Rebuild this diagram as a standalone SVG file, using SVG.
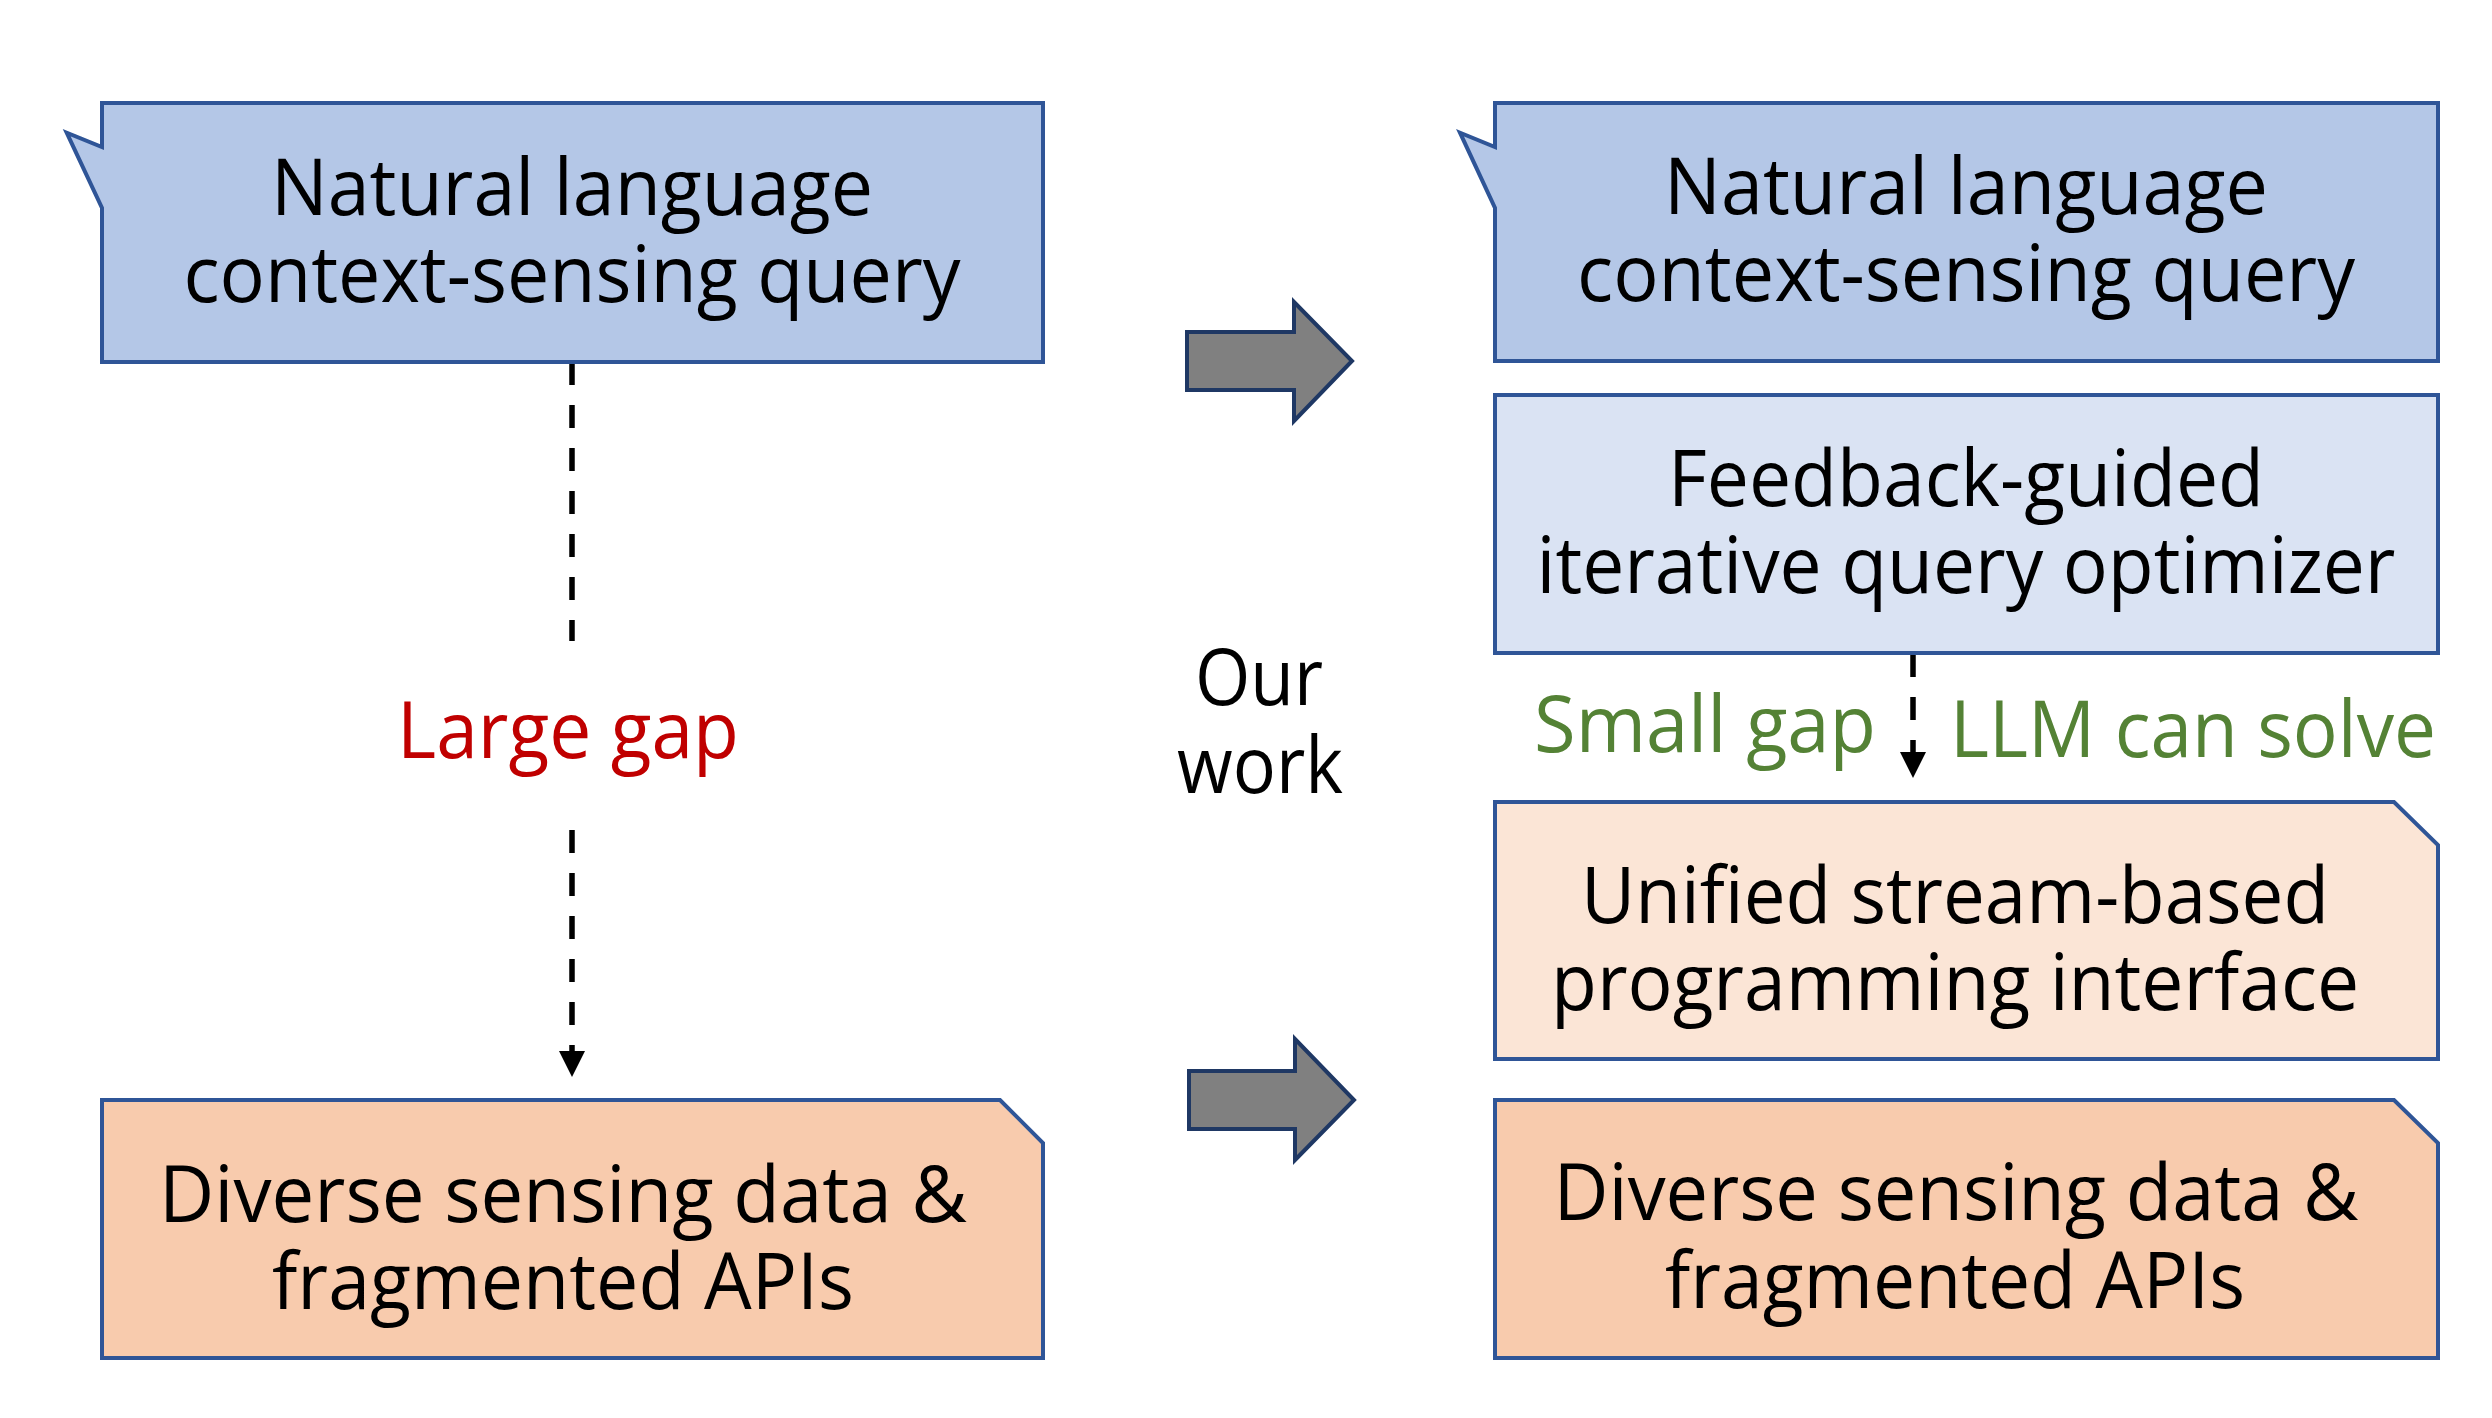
<svg xmlns="http://www.w3.org/2000/svg" width="2492" height="1418" viewBox="0 0 2492 1418">
<defs>
<style>
.box{stroke:#2F5597;stroke-width:4;stroke-linejoin:miter}
.q{fill:#B4C7E7}
.opt{fill:#DAE3F3}
.uni{fill:#FBE5D6}
.div{fill:#F8CBAD}
.t{font-family:"Open Sans","Noto Sans","DejaVu Sans",sans-serif;font-size:78px;fill:#000;text-anchor:middle}
.red{fill:#C00000}
.green{fill:#548235;text-anchor:start}
.dash{stroke:#000;stroke-width:5.5;stroke-dasharray:23 20;fill:none}
.big{fill:#808080;stroke:#1F3864;stroke-width:4;stroke-linejoin:miter}
</style>
<marker id="ah" markerUnits="userSpaceOnUse" markerWidth="26" markerHeight="26" viewBox="0 0 24 24" refX="24" refY="12" orient="auto">
<path d="M0,0 L24,12 L0,24 Z" fill="#000"/>
</marker>
</defs>
<rect width="2492" height="1418" fill="#fff"/>

<g id="connectors">
<path class="dash" d="M572,362 V641 M572,830 V1077" marker-end="url(#ah)"/>
<path class="dash" d="M1913,654 V778" marker-end="url(#ah)"/>
<polygon class="big" points="1187,332 1294,332 1294,302 1352,361 1294,421 1294,390 1187,390"/>
<polygon class="big" points="1189,1071 1295,1071 1295,1039 1354,1100 1295,1160 1295,1129 1189,1129"/>
</g>

<g id="left-query">
<path class="box q" d="M102,103 H1043 V362 H102 V208 L66.7,132.7 L102,147 Z"/>
<text class="t" x="572" y="215" textLength="602" lengthAdjust="spacingAndGlyphs">Natural language</text>
<text class="t" x="572" y="302" textLength="777" lengthAdjust="spacingAndGlyphs">context-sensing query</text>
</g>

<g id="left-data">
<path class="box div" d="M102,1100 H1000 L1043,1143 V1358 H102 Z"/>
<text class="t" x="563" y="1222" textLength="808" lengthAdjust="spacingAndGlyphs">Diverse sensing data &amp;</text>
<text class="t" x="563" y="1309" textLength="582" lengthAdjust="spacingAndGlyphs">fragmented APIs</text>
</g>

<g id="large-gap">
<text class="t red" x="568" y="758" textLength="342" lengthAdjust="spacingAndGlyphs">Large gap</text>
</g>

<g id="our-work">
<text class="t" x="1259" y="705" textLength="128" lengthAdjust="spacingAndGlyphs">Our</text>
<text class="t" x="1260" y="793" textLength="166" lengthAdjust="spacingAndGlyphs">work</text>
</g>

<g id="right-query">
<path class="box q" d="M1495,103 H2438 V361 H1495 V208 L1460,132.7 L1495,147 Z"/>
<text class="t" x="1966" y="214" textLength="604" lengthAdjust="spacingAndGlyphs">Natural language</text>
<text class="t" x="1966" y="301" textLength="778" lengthAdjust="spacingAndGlyphs">context-sensing query</text>
</g>

<g id="optimizer">
<rect class="box opt" x="1495" y="395" width="943" height="258"/>
<text class="t" x="1966" y="506" textLength="596" lengthAdjust="spacingAndGlyphs">Feedback-guided</text>
<text class="t" x="1966" y="593" textLength="859" lengthAdjust="spacingAndGlyphs">iterative query optimizer</text>
</g>

<g id="gap-labels">
<text class="t green" x="1534" y="752" textLength="342" lengthAdjust="spacingAndGlyphs">Small gap</text>
<text class="t green" x="1950" y="757" textLength="486" lengthAdjust="spacingAndGlyphs">LLM can solve</text>
</g>

<g id="unified">
<path class="box uni" d="M1495,802 H2394 L2438,845 V1059 H1495 Z"/>
<text class="t" x="1955" y="923" textLength="748" lengthAdjust="spacingAndGlyphs">Unified stream-based</text>
<text class="t" x="1955" y="1010" textLength="808" lengthAdjust="spacingAndGlyphs">programming interface</text>
</g>

<g id="right-data">
<path class="box div" d="M1495,1100 H2394 L2438,1143 V1358 H1495 Z"/>
<text class="t" x="1956" y="1220" textLength="805" lengthAdjust="spacingAndGlyphs">Diverse sensing data &amp;</text>
<text class="t" x="1955" y="1308" textLength="580" lengthAdjust="spacingAndGlyphs">fragmented APIs</text>
</g>
</svg>
